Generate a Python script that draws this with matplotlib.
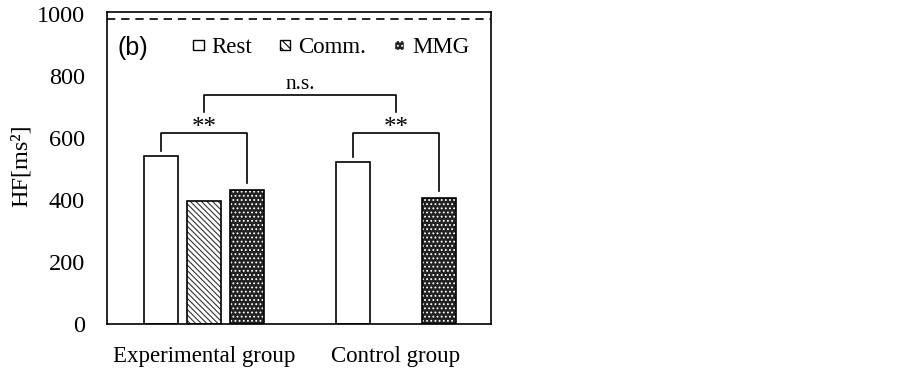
import numpy as np
import matplotlib
matplotlib.use("Agg")
import matplotlib.pyplot as plt
from matplotlib.patches import Patch

plt.rcParams["hatch.linewidth"] = 0.8

groups = ["Experimental group", "Control group"]
conditions = ["Rest", "Comm.", "MMG"]
rest = [542, 522]
comm = [397, np.nan]
mmg = [433, 406]
ref_level = 982

serif = "Liberation Serif"

fig = plt.figure(figsize=(9.03, 3.7), dpi=100)
ax = fig.add_axes([0.1185, 0.1243, 0.4252, 0.8432])

x = np.arange(len(groups))
w = 0.177
step = 0.224

ax.bar(x - step, rest, w, facecolor="white", edgecolor="black", linewidth=1.2)
ax.bar(x, comm, w, facecolor="white", edgecolor="#333333", hatch="\\\\\\\\\\\\", linewidth=0)
ax.bar(x, comm, w, facecolor="none", edgecolor="black", linewidth=1.2)
ax.bar(x + step, mmg, w, facecolor="#222222", edgecolor="white", hatch="....", linewidth=0)
ax.bar(x + step, mmg, w, facecolor="none", edgecolor="black", linewidth=1.2)

ax.axhline(ref_level, color="black", linestyle=(0, (5, 3.5)), linewidth=1.2)

# significance brackets
top = 616
for i in range(len(groups)):
    xl, xr = x[i] - step, x[i] + step
    yl = rest[i] + 15
    yr = mmg[i] + 22
    ax.plot([xl, xl, xr, xr], [yl, top, top, yr], color="black", lw=1.2)
    ax.text(x[i], top - 20, "**", ha="center", va="bottom", fontsize=18, family=serif)

ax.plot([x[0], x[0], x[1], x[1]], [684, 739, 739, 684], color="black", lw=1.2)
ax.text((x[0] + x[1]) / 2, 743, "n.s.", ha="center", va="bottom", fontsize=15.5, family=serif)

ax.text(0.027, 0.885, "(b)", transform=ax.transAxes, fontsize=18,
        family="Liberation Sans", va="center")

handles = [
    Patch(facecolor="white", edgecolor="black", linewidth=1),
    Patch(facecolor="white", edgecolor="black", hatch="\\\\\\\\", linewidth=1),
    Patch(facecolor="#222222", edgecolor="white", hatch="....", linewidth=1),
]
ax.legend(handles, conditions, loc="center left", bbox_to_anchor=(0.225, 0.885),
          ncol=3, frameon=False, handlelength=0.45, handleheight=0.3,
          handletextpad=0.35, columnspacing=1.2, borderpad=0, borderaxespad=0,
          prop={"family": serif, "size": 16.5})

ax.set_xlim(-0.505, 1.495)
ax.set_ylim(0, 1006)
ax.set_yticks([0, 200, 400, 600, 800, 1000])
ax.set_xticks(x)
ax.set_xticklabels(groups)
ax.tick_params(axis="y", length=0, labelsize=17.5, pad=16)
ax.tick_params(axis="x", length=0, labelsize=16.5, pad=16)
for lab in ax.get_xticklabels() + ax.get_yticklabels():
    lab.set_family(serif)
ax.set_ylabel("HF[ms²]", family=serif, fontsize=17.5)
ax.yaxis.set_label_coords(-0.195, 0.506)
for s in ax.spines.values():
    s.set_linewidth(1.2)

fig.savefig("out.png", dpi=100)
